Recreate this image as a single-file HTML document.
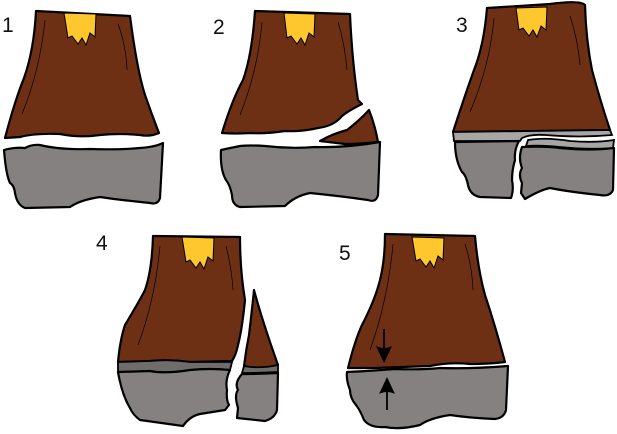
<!DOCTYPE html>
<html><head><meta charset="utf-8"><style>
html,body{margin:0;padding:0;background:#fff;width:617px;height:434px;overflow:hidden}
svg{display:block}
text{font-family:"Liberation Sans",sans-serif;font-size:21px;fill:#111}
.b{fill:#6e3014;stroke:#000;stroke-width:2.2;stroke-linejoin:round}
.g{fill:#858180;stroke:#000;stroke-width:2.2;stroke-linejoin:round}
.lg{fill:#a8a6a5;stroke:#000;stroke-width:1.8}
.dg{fill:#6f6d6c;stroke:#000;stroke-width:1.8}
.y{fill:#fec72d;stroke:#000;stroke-width:1}
.t{fill:none;stroke:#000;stroke-width:0.7}
</style></head><body>
<svg width="617" height="434" viewBox="0 0 617 434">
<g>
<text x="2" y="32">1</text>
<path class="b" d="M36,11 L130,16 Q137,70 145,95 Q152,115 159,133 Q150,137 140,135 Q120,133 100,135 Q80,138 60,134 Q35,133 20,137 L5,138 Q15,100 24,78 Q34,50 36,11 Z"/>
<path class="y" d="M64,13 L96,14 L95,37 L90,33 L86,45 L82,38 L78,44 L72,36 L68,38 Z"/>
<path class="t" d="M45,20 Q40,70 22,114 M118,24 Q126,45 127,70"/>
<path class="g" d="M4,150 Q15,147 25,148 Q32,144 40,145 Q60,150 90,149 Q120,150 140,148 Q155,147 163,143 L160,198 Q158,205 150,203 Q120,200 100,197 Q80,200 70,207 L25,208 Q17,205 15,193 Q14,185 10,183 Q6,175 4,150 Z"/>
</g>
<g>
<text x="213" y="34">2</text>
<path class="b" d="M255,11 L350,14 Q352,60 358,100 L362,104 Q348,111 342,116 Q334,126 318,128 Q300,132 285,131 Q265,134 250,133 Q235,134 222,133 Q232,100 243,80 Q252,55 255,11 Z"/>
<path class="b" d="M320,141 Q332,134 347,130 Q360,120 369,110 Q375,125 378,142 Q360,144 345,144 Z"/>
<path class="y" d="M284,13 L315,14 L314,37 L309,33 L305,45 L301,38 L297,44 L291,36 L287,38 Z"/>
<path class="t" d="M262,22 Q258,70 240,115 M338,22 Q345,45 347,70"/>
<path class="g" d="M221,150 Q230,148 240,146 Q250,145 265,146 Q290,149 315,147 Q345,148 380,142 L378,195 Q376,203 368,200 Q340,196 310,193 Q295,196 285,206 L240,207 Q232,205 232,195 Q230,185 226,180 Q220,170 221,150 Z"/>
</g>
<g>
<text x="456" y="32">3</text>
<path class="b" d="M487,8 Q520,6 550,4 Q580,0 585,5 Q586,40 592,70 Q600,100 610,130 L453,132 Q465,95 474,70 Q484,45 487,8 Z"/>
<path class="y" d="M516,8 L547,7 L546,30 L541,26 L537,37 L533,30 L529,36 L523,28 L519,30 Z"/>
<path class="t" d="M494,18 Q490,65 470,112 M570,16 Q578,40 580,65"/>
<path class="lg" d="M453,132 L610,130 L612,135 Q580,138 545,135 Q530,134 522,138 L520,141 L454,141 Z"/>
<path class="lg" d="M528,140 Q545,137 570,141 Q595,143 614,140 L613,148 Q590,150 560,147 Q540,145 526,146 Z"/>
<path class="g" d="M455,142 L519,141 Q514,150 515,160 Q512,170 512,180 Q514,190 511,198 L480,197 Q470,195 468,185 Q466,175 462,172 Q455,160 455,142 Z"/>
<path class="g" d="M522,147 Q545,146 560,148 Q590,151 614,148 L613,190 Q610,197 600,195 Q570,192 550,188 Q540,190 525,199 L521,193 L522,183 Q518,175 522,168 Q518,158 522,147 Z"/>
</g>
<g>
<text x="96" y="250">4</text>
<path class="b" d="M153,236 L240,237 Q240,270 245,300 Q242,330 238,345 Q236,355 232,361 L190,362 Q170,359 150,361 L118,362 Q120,340 125,325 Q140,300 145,290 Q152,270 153,236 Z"/>
<path class="b" d="M254,290 Q262,320 278,365 L270,367 Q255,369 244,366 Q246,350 249,335 Q252,310 254,290 Z"/>
<path class="y" d="M182,237 L214,238 L213,261 L208,257 L204,269 L200,262 L196,268 L190,260 L186,262 Z"/>
<path class="t" d="M160,246 Q155,300 138,345 M226,246 Q232,270 233,290"/>
<path class="dg" d="M118,362 L150,361 Q170,359 190,362 L232,362 L230,370 Q210,368 190,370 Q165,374 150,371 L118,372 Z"/>
<path class="dg" d="M244,366 Q260,369 278,365 L278,372 Q260,373 242,373 Z"/>
<path class="g" d="M118,372 L150,371 Q165,374 190,370 Q210,368 230,370 Q225,380 227,390 Q226,400 229,405 L225,410 L200,414 Q190,416 183,426 L140,420 Q133,415 130,408 Q122,395 118,372 Z"/>
<path class="g" d="M242,374 Q260,374 278,373 L277,410 Q275,418 265,421 L237,418 L238,408 Q234,395 238,390 Q234,383 242,374 Z"/>
</g>
<g>
<text x="339" y="260">5</text>
<path class="b" d="M385,234 L475,236 Q478,270 485,295 Q495,325 505,362 Q490,364 470,364 Q450,362 430,366 Q400,367 375,368 L348,368 Q355,340 362,325 Q375,300 380,280 Q385,260 385,234 Z"/>
<path class="y" d="M412,237 L444,238 L443,260 L438,256 L434,268 L430,261 L426,267 L420,259 L416,261 Z"/>
<path class="t" d="M393,244 Q388,300 370,350 M465,244 Q472,265 473,290"/>
<path class="g" d="M347,372 Q370,371 395,369 Q420,370 440,368 Q470,369 508,366 L506,410 Q504,418 495,419 Q470,418 450,415 Q430,418 420,425 Q400,430 385,427 Q370,428 364,420 Q360,410 356,405 Q350,398 350,390 Q346,380 347,372 Z"/>
<g>
<line x1="384" y1="329" x2="384" y2="352" stroke="#000" stroke-width="1.8"/>
<path d="M376,346 Q384,350 392,346 L384,363 Z" fill="#000"/>
<line x1="387" y1="410" x2="387" y2="388" stroke="#000" stroke-width="1.8"/>
<path d="M379,394 Q387,390 395,394 L387,377 Z" fill="#000"/>
</g>
</g>
</svg>
</body></html>
